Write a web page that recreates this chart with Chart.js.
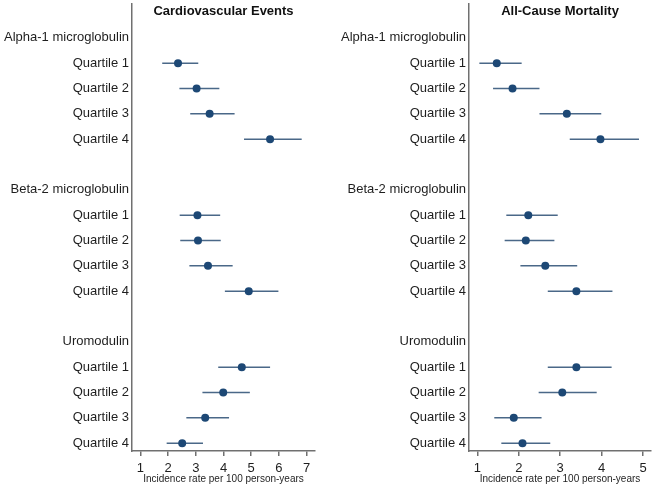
<!DOCTYPE html>
<html>
<head>
<meta charset="utf-8">
<script src="https://cdn.jsdelivr.net/npm/chart.js@4.4.1/dist/chart.umd.min.js"></script>
<style>
  body { margin: 0; background: #fff; }
  .panel { position: absolute; top: 0; }
</style>
</head>
<body>
<div class="panel" style="left:0"><canvas id="cvChart" width="327" height="487"></canvas></div>
<div class="panel" style="left:327px"><canvas id="mortChart" width="328" height="487"></canvas></div>
<script>
const FONT = "'Liberation Sans', Arial, sans-serif";

// one row per line of the plot, blank strings are spacer rows
const rowLabels = [
  "Alpha-1 microglobulin", "Quartile 1", "Quartile 2", "Quartile 3", "Quartile 4", "",
  "Beta-2 microglobulin", "Quartile 1", "Quartile 2", "Quartile 3", "Quartile 4", "",
  "Uromodulin", "Quartile 1", "Quartile 2", "Quartile 3", "Quartile 4"
];
// rows that carry an estimate
const dataRows = [1, 2, 3, 4, 7, 8, 9, 10, 13, 14, 15, 16];

// Cardiovascular events
const cvRate  = [2.36, 3.03, 3.50, 5.68, 3.06, 3.08, 3.44, 4.91, 4.66, 3.99, 3.34, 2.51];
const cvLower = [1.79, 2.41, 2.80, 4.74, 2.42, 2.44, 2.77, 4.05, 3.81, 3.24, 2.66, 1.95];
const cvUpper = [3.09, 3.85, 4.40, 6.82, 3.88, 3.90, 4.33, 5.98, 5.68, 4.95, 4.20, 3.26];
const cvTicks = [1, 2, 3, 4, 5, 6, 7];

// All-cause mortality
const mortRate  = [1.47, 1.85, 3.16, 3.97, 2.23, 2.17, 2.64, 3.39, 3.39, 3.05, 1.88, 2.09];
const mortLower = [1.05, 1.38, 2.50, 3.23, 1.70, 1.66, 2.04, 2.70, 2.70, 2.48, 1.41, 1.58];
const mortUpper = [2.07, 2.50, 3.99, 4.90, 2.94, 2.86, 3.41, 4.26, 4.24, 3.88, 2.55, 2.76];
const mortTicks = [1, 2, 3, 4, 5];

const axisColor = "#707070";
const textColor = "#1e1e1e";

const panelTitle = {
  id: "panelTitle",
  afterDraw(chart, args, opts) {
    const { ctx, chartArea } = chart;
    ctx.save();
    ctx.font = "bold 13px " + FONT;
    ctx.fillStyle = "#111";
    ctx.textAlign = "center";
    ctx.textBaseline = "middle";
    ctx.fillText(opts.text, (chartArea.left + chartArea.right) / 2, 11);
    ctx.restore();
  }
};

function buildPanel(canvasId, title, rate, lower, upper, ticks, xMin, xMax, axisWidth, padRight) {
  const dots = dataRows.map((row, i) => ({ x: rate[i], y: row }));
  const bars = [];
  dataRows.forEach((row, i) => {
    bars.push({ x: lower[i], y: row });
    bars.push({ x: upper[i], y: row });
    bars.push({ x: upper[i], y: null });
  });

  return new Chart(document.getElementById(canvasId), {
    type: "scatter",
    data: {
      datasets: [
        {
          data: dots,
          pointRadius: 4,
          pointBackgroundColor: "#1d4875",
          pointBorderWidth: 0,
          showLine: false
        },
        {
          data: bars,
          showLine: true,
          spanGaps: false,
          borderColor: "#4a6888",
          borderWidth: 1.5,
          pointRadius: 0
        }
      ]
    },
    options: {
      responsive: false,
      animation: false,
      layout: { padding: { top: 2, right: padRight, bottom: 0, left: 0 } },
      plugins: {
        legend: { display: false },
        tooltip: { enabled: false },
        panelTitle: { text: title }
      },
      scales: {
        y: {
          type: "linear",
          reverse: true,
          min: -1.336,
          max: 16.31,
          afterBuildTicks: s => { s.ticks = rowLabels.map((_, i) => ({ value: i })); },
          afterFit: s => {
            s.width = axisWidth;
            s.paddingTop = 0;
            s.paddingBottom = 0;
          },
          ticks: {
            autoSkip: false,
            padding: 3,
            color: textColor,
            font: { family: FONT, size: 13 },
            callback: v => rowLabels[v] ?? ""
          },
          grid: { display: true, drawOnChartArea: false, drawTicks: false },
          border: { color: axisColor, width: 1.5 }
        },
        x: {
          type: "linear",
          min: xMin,
          max: xMax,
          afterBuildTicks: s => { s.ticks = ticks.map(v => ({ value: v })); },
          afterFit: s => {
            s.height = 36;
            s.paddingLeft = 0;
            s.paddingRight = 0;
          },
          ticks: {
            autoSkip: false,
            maxRotation: 0,
            padding: 5,
            color: textColor,
            font: { family: FONT, size: 13 },
            callback: v => String(v)
          },
          grid: { display: true, drawOnChartArea: false, drawTicks: true, tickLength: 5, color: axisColor, lineWidth: 1.5 },
          border: { color: axisColor, width: 1.5 },
          title: {
            display: true,
            text: "Incidence rate per 100 person-years",
            color: textColor,
            font: { family: FONT, size: 10 },
            padding: { top: 0, bottom: 2 }
          }
        }
      }
    },
    plugins: [panelTitle]
  });
}

buildPanel("cvChart", "Cardiovascular Events", cvRate, cvLower, cvUpper, cvTicks, 0.7, 7.3, 132, 12);
buildPanel("mortChart", "All-Cause Mortality", mortRate, mortLower, mortUpper, mortTicks, 0.8, 5.19, 142, 3);
</script>
</body>
</html>
